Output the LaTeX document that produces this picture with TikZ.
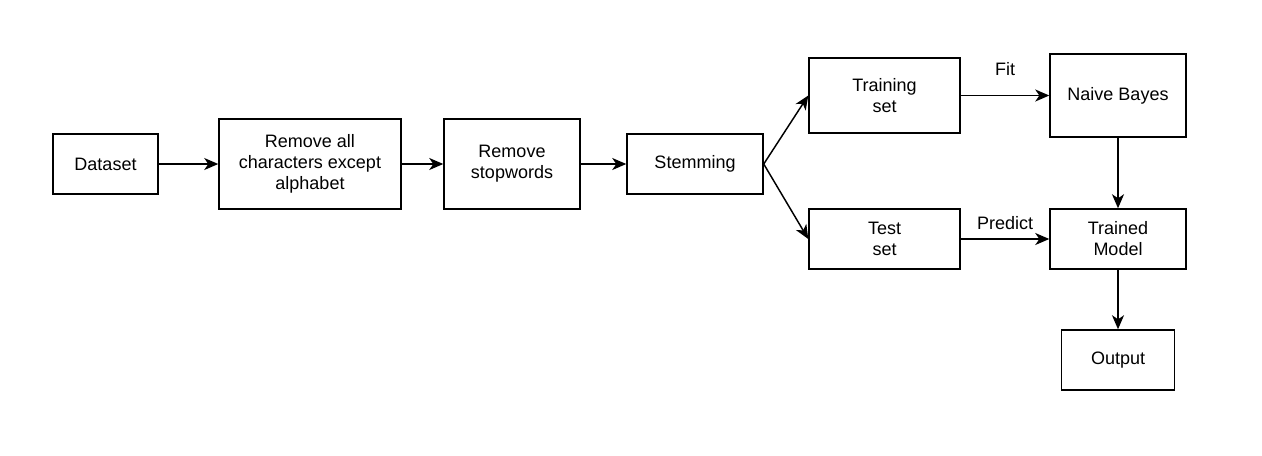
\documentclass[tikz,border=0pt]{standalone}
\usepackage{fontspec}
\setmainfont{Liberation Sans}
\usetikzlibrary{arrows.meta}
\tikzset{
  box/.style={draw, line width=1.1pt, align=center, inner sep=0pt,
    font=\fontsize{13.5}{15.75}\selectfont},
  flow/.style={-{Stealth[length=10.5pt,width=9pt,inset=3pt]}, line width=1.1pt}
}
\begin{document}
\begin{tikzpicture}[x=0.75pt,y=-0.75pt]
\useasboundingbox (0,0) rectangle (1262,455);
% preprocessing
\node [box, minimum width=78.75pt, minimum height=45pt] (data) at (105.5,164) {Dataset};
\node [box, minimum width=136.5pt, minimum height=67.5pt] (clean) at (310,164) {Remove all\\characters except\\alphabet};
\node [box, minimum width=102pt, minimum height=67.5pt] (stop) at (512,164) {Remove\\stopwords};
\node [box, minimum width=102pt, minimum height=45pt] (stem) at (695,164) {Stemming};
% split
\node [box, minimum width=113.25pt, minimum height=56.25pt] (train) at (884.5,95.5) {Training\\set};
\node [box, minimum width=113.25pt, minimum height=45pt] (test) at (884.5,239) {Test\\set};
% model
\node [box, minimum width=102pt, minimum height=62.25pt] (nb) at (1118,95.5) {Naive Bayes};
\node [box, minimum width=102pt, minimum height=45pt] (model) at (1118,239) {Trained\\Model};
\node [box, minimum width=84.75pt, minimum height=45pt] (out) at (1118,360) {Output};
\draw [flow] (data) -- (clean);
\draw [flow] (clean) -- (stop);
\draw [flow] (stop) -- (stem);
\draw [flow] (stem.east) -- (train.west);
\draw [flow] (stem.east) -- (test.west);
\draw [flow] (train) -- node [above=11pt, font=\fontsize{13.5}{16}\selectfont] (fit) {Fit} (nb);
\draw [flow] (test.east) -- node [above=3pt, font=\fontsize{13.5}{16}\selectfont] (pred) {Predict} (model.west);
\draw [flow] (nb) -- (model);
\draw [flow] (model) -- (out);
\end{tikzpicture}
\end{document}
